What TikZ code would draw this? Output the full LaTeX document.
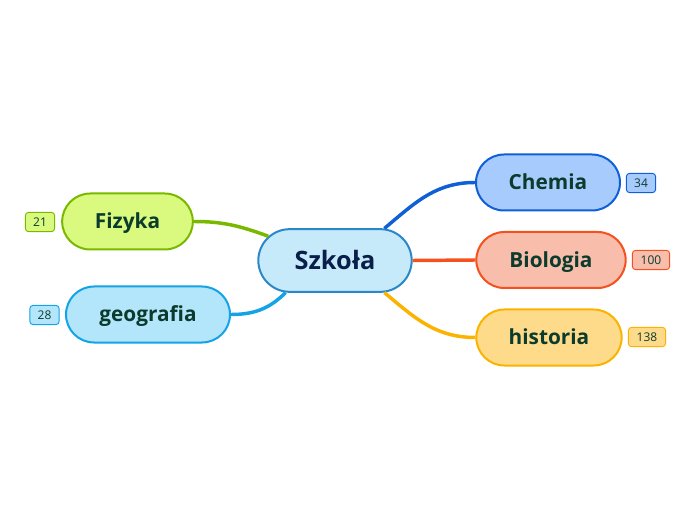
\documentclass[tikz,border=0pt]{standalone}
\usepackage{fontspec}
\setmainfont{Open Sans}
\usetikzlibrary{shapes.misc}
\definecolor{txtgreen}{HTML}{0B3B2C}
\definecolor{txtnavy}{HTML}{0A1E4A}
\definecolor{rootline}{HTML}{2A88C9}
\definecolor{rootfill}{HTML}{C7EAFB}
\definecolor{limeline}{HTML}{7AB800}
\definecolor{limefill}{HTML}{D9F97F}
\definecolor{skyline}{HTML}{13A3E6}
\definecolor{skyfill}{HTML}{B3E5FB}
\definecolor{blueline}{HTML}{0F5FD6}
\definecolor{bluefill}{HTML}{A8CBFD}
\definecolor{redline}{HTML}{F4511E}
\definecolor{redfill}{HTML}{F8BDAB}
\definecolor{goldline}{HTML}{FBB300}
\definecolor{goldfill}{HTML}{FDDB8A}
\begin{document}
\begin{tikzpicture}[x=0.75pt, y=-0.75pt,
  topic/.style={rounded rectangle, line width=1.5pt, inner sep=0pt,
    minimum height=42pt, text height=11.1pt, text depth=0pt,
    font=\fontsize{15.6}{18}\selectfont\bfseries, text=txtgreen},
  badge/.style={rectangle, rounded corners=2.5pt, line width=0.7pt, inner sep=0pt,
    minimum height=14.5pt, text height=6.4pt, text depth=0pt,
    font=\fontsize{9}{11}\selectfont, text=txtgreen},
  link/.style={line width=2.6pt}]
  \useasboundingbox (0,0) rectangle (696,520);
  % Central topic
  \node[rounded rectangle, draw=rootline, fill=rootfill, line width=1.5pt,
    minimum width=115pt, minimum height=47pt, inner sep=0pt, text height=13.6pt, text depth=0pt,
    font=\fontsize{19}{22}\selectfont\bfseries, text=txtnavy] (szkola) at (335,260.5) {Szkoła};
  % Left branches
  \node[topic, draw=limeline, fill=limefill, minimum width=98pt] (fizyka) at (127.5,221.5) {Fizyka};
  \node[topic, draw=skyline, fill=skyfill, minimum width=123pt] (geografia) at (148,314.5) {geografia};
  % Right branches
  \node[topic, draw=blueline, fill=bluefill, minimum width=108pt] (chemia) at (548,182.5) {Chemia};
  \node[topic, draw=redline, fill=redfill, minimum width=112pt] (biologia) at (551,260) {Biologia};
  \node[topic, draw=goldline, fill=goldfill, minimum width=109pt] (historia) at (549,337.5) {historia};
  % Counters
  \node[badge, draw=limeline, fill=limefill, minimum width=22pt] (n21) at (40,222) {21};
  \node[badge, draw=skyline, fill=skyfill, minimum width=22pt] (n28) at (44.5,315) {28};
  \node[badge, draw=blueline, fill=bluefill, minimum width=22pt] (n34) at (641,183) {34};
  \node[badge, draw=redline, fill=redfill, minimum width=28pt] (n100) at (651,260) {100};
  \node[badge, draw=goldline, fill=goldfill, minimum width=28pt] (n138) at (647,337) {138};
  % Connectors
  \draw[link, limeline] (fizyka.east) to[out=0, in=160] (szkola.160);
  \draw[link, skyline] (geografia.east) to[out=0, in=225] (szkola.213);
  \draw[link, blueline] (szkola.33) to[out=40, in=180] (chemia.west);
  \draw[link, redline] (szkola.east) -- (biologia.west);
  \draw[link, goldline] (szkola.-33) to[out=-40, in=180] (historia.west);
\end{tikzpicture}
\end{document}
